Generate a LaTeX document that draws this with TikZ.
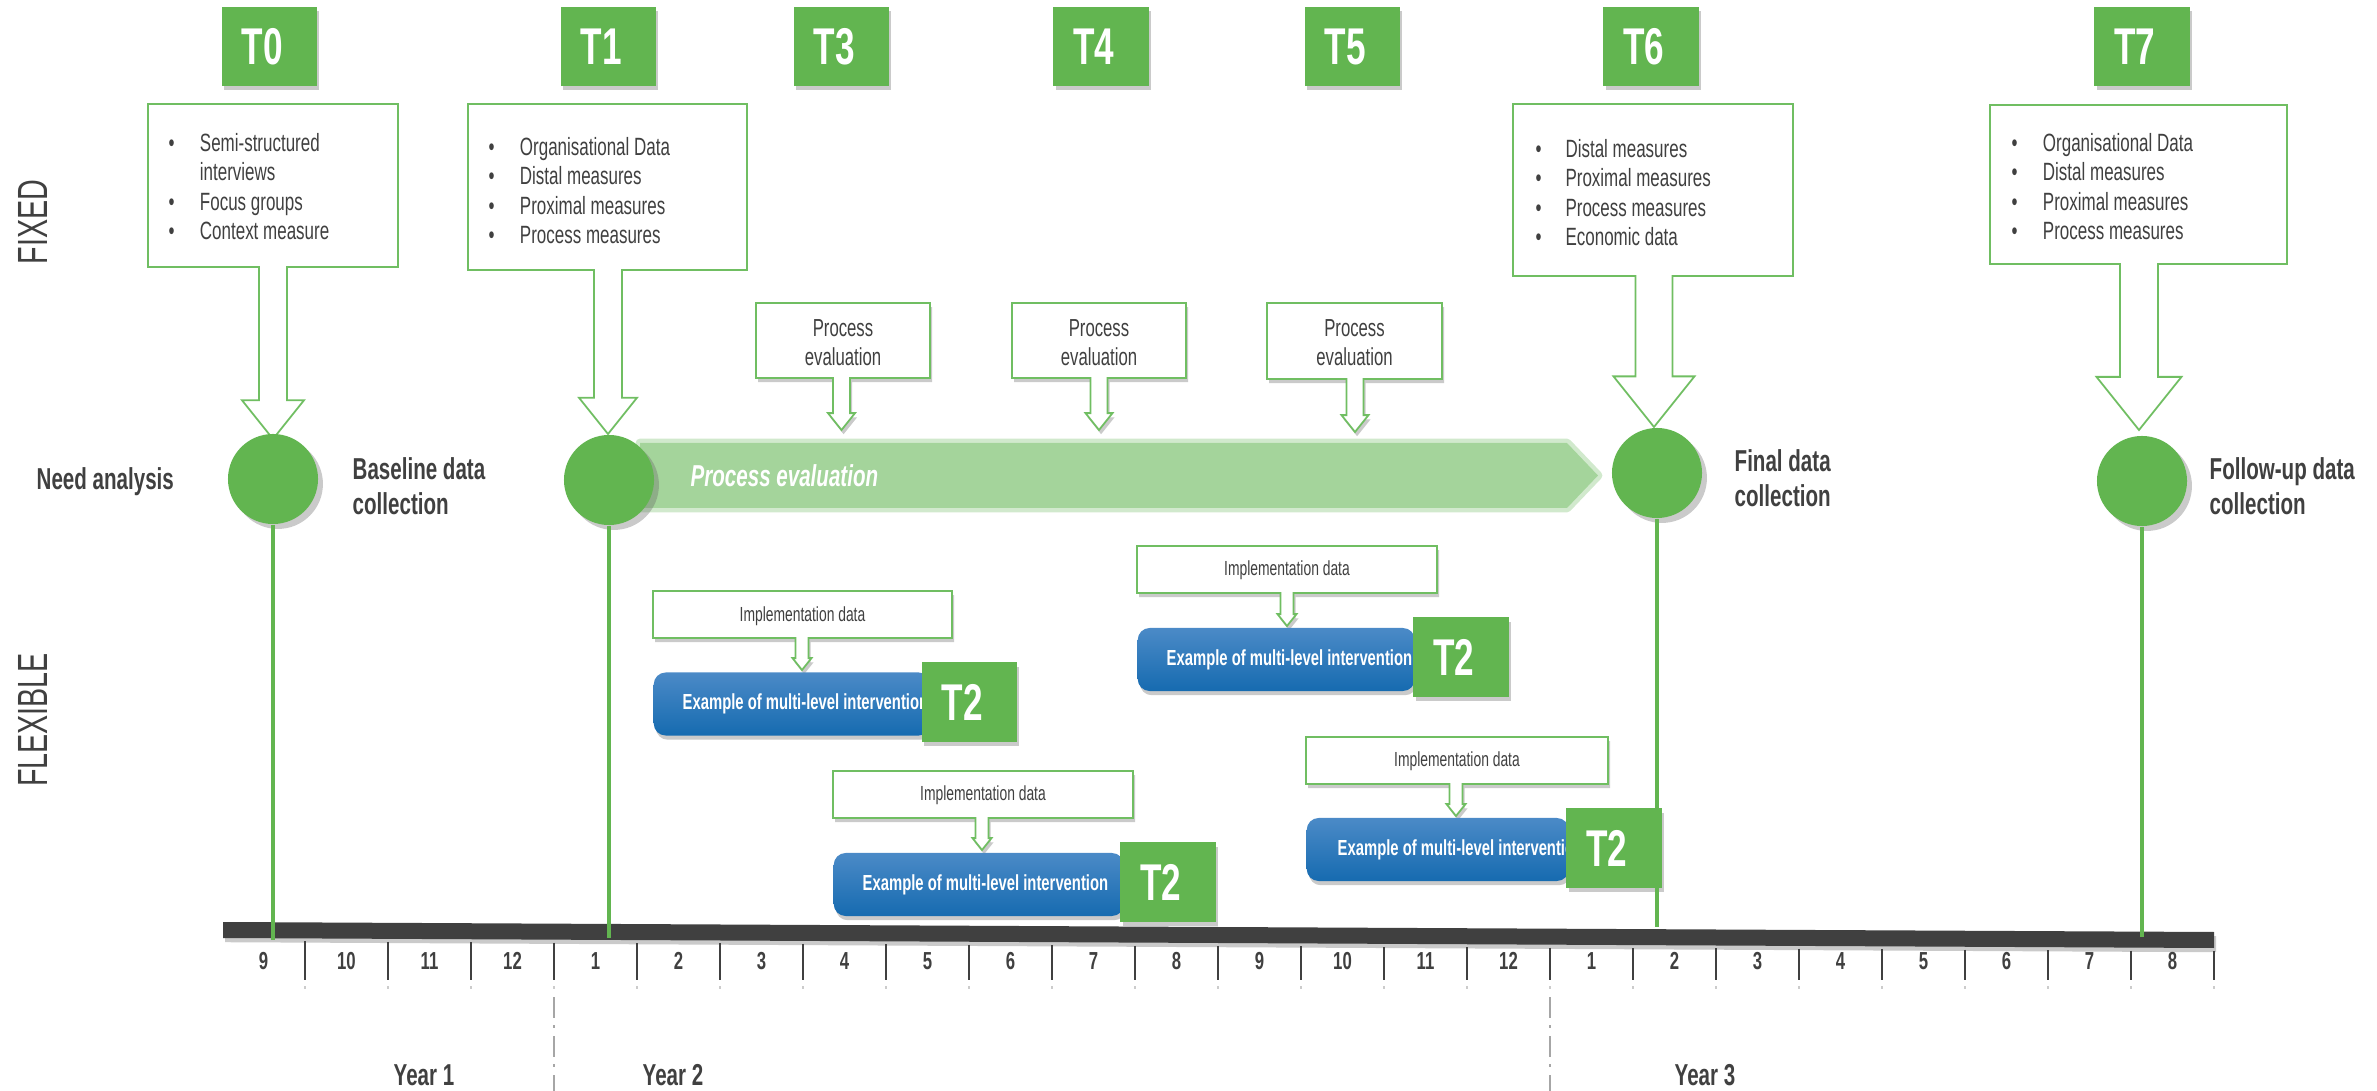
\documentclass[tikz,border=0pt]{standalone}
\usepackage{fontspec}
\setmainfont[FakeStretch=0.68]{Liberation Sans}
\usetikzlibrary{shadows}
\definecolor{tgreen}{RGB}{98,181,80}
\definecolor{lgreen}{RGB}{112,190,98}
\definecolor{pband}{RGB}{164,212,155}
\definecolor{btop}{RGB}{75,138,199}
\definecolor{bbot}{RGB}{22,107,176}
\definecolor{dgrey}{RGB}{64,64,64}
\newcommand{\callout}[9]{%
  \path[#1] (#2,#3) -- (#4,#3) -- (#4,#5) -- ({#6+#7},#5) -- ({#6+#7},{#9-1.25*#8})
    -- ({#6+#8},{#9-1.25*#8}) -- (#6,#9) -- ({#6-#8},{#9-1.25*#8}) -- ({#6-#7},{#9-1.25*#8})
    -- ({#6-#7},#5) -- (#2,#5) -- cycle;}

\begin{document}
\begin{tikzpicture}[x=0.01cm, y=-0.01cm,
  shade/.style={drop shadow={shadow xshift=0.6pt, shadow yshift=-1.2pt, opacity=0.35, fill=black!60}},
  tsq/.style={fill=tgreen, minimum width=0.95cm, minimum height=0.79cm, inner sep=0, text=white, font=\bfseries\fontsize{14.7}{16}\selectfont, execute at end node={\hspace*{4pt}}, shade},
  dot/.style={circle, fill=tgreen, minimum size=0.9cm, inner sep=0, drop shadow={shadow xshift=1.4pt, shadow yshift=-1.4pt, opacity=0.35, fill=black!60}},
  bigbox/.style={fill=white, draw=lgreen, line width=0.5pt},
  smallbox/.style={bigbox, shade},
  lbl/.style={font=\bfseries\fontsize{8.6}{10}\selectfont, text=dgrey, align=left, anchor=west, inner sep=0},
  blist/.style={anchor=north west, inner sep=0, text=dgrey, font=\fontsize{7.1}{8.4}\selectfont},
  ptext/.style={align=center, text=dgrey, font=\fontsize{7}{8.3}\selectfont, inner sep=0},
  itext/.style={text=dgrey, font=\fontsize{5.8}{7}\selectfont, inner sep=0},
  bbar/.style={rounded corners=0.12cm, top color=btop, bottom color=bbot, minimum height=0.63cm, anchor=west, inner sep=0, shade},
  btext/.style={text=white, font=\bfseries\fontsize{6.2}{8}\selectfont, anchor=west, inner sep=0},
  band/.style={fill=pband, draw=pband, draw opacity=0.5, line width=2.5pt, line join=round},
  month/.style={text=dgrey, font=\bfseries\fontsize{7}{8}\selectfont},
  tick/.style={dgrey, line width=0.6pt},
  vline/.style={tgreen, line width=1pt},
  yeardiv/.style={black!35, line width=0.6pt, dash pattern=on 6pt off 2pt on 0.8pt off 2.3pt},
  side/.style={rotate=90, text=dgrey, font=\fontsize{12}{14}\selectfont}]
  \useasboundingbox (0,0) rectangle (2377,1091);

  \node[side] (fixed) at (33,222) {FIXED};
  \node[side] (flex) at (33,720) {FLEXIBLE};
  \node[lbl, anchor=base west] (need) at (36,490) {Need analysis};

  \node[tsq] (t0) at (269.5,46.5) {T0};
  \node[tsq] (t1) at (608.5,46.5) {T1};
  \node[tsq] (t3) at (841.5,46.5) {T3};
  \node[tsq] (t4) at (1101,46.5) {T4};
  \node[tsq] (t5) at (1352.5,46.5) {T5};
  \node[tsq] (t6) at (1651,46.5) {T6};
  \node[tsq] (t7) at (2142,46.5) {T7};

  \callout{bigbox}{148}{104}{398}{267}{273}{14}{31}{439}
  \callout{bigbox}{468}{104}{747}{270}{608}{14}{29}{434}
  \callout{bigbox}{1513}{104}{1793}{276}{1654}{18.5}{40.5}{427}
  \callout{bigbox}{1990}{105}{2287}{264}{2139}{19}{42.5}{430}
  \node[blist] (l0) at (168,130) {\begin{tabular}{@{}l@{\hspace{7.2pt}}l@{}}\textbullet & Semi-structured\\ & interviews\\ \textbullet & Focus groups\\ \textbullet & Context measure\end{tabular}};
  \node[blist] (l1) at (488,134) {\begin{tabular}{@{}l@{\hspace{7.2pt}}l@{}}\textbullet & Organisational Data\\ \textbullet & Distal measures\\ \textbullet & Proximal measures\\ \textbullet & Process measures\end{tabular}};
  \node[blist] (l6) at (1535,136) {\begin{tabular}{@{}l@{\hspace{6.8pt}}l@{}}\textbullet & Distal measures\\ \textbullet & Proximal measures\\ \textbullet & Process measures\\ \textbullet & Economic data\end{tabular}};
  \node[blist] (l7) at (2011,130) {\begin{tabular}{@{}l@{\hspace{7.2pt}}l@{}}\textbullet & Organisational Data\\ \textbullet & Distal measures\\ \textbullet & Proximal measures\\ \textbullet & Process measures\end{tabular}};

  \callout{smallbox}{756}{303}{930}{378}{841.5}{8.5}{13.5}{430}
  \callout{smallbox}{1012}{303}{1186}{378}{1099}{8.5}{13.5}{430}
  \callout{smallbox}{1267}{303}{1442}{379}{1355}{8.5}{13.5}{432}
  \node[ptext] (p1) at (843,342.5) {Process\\evaluation};
  \node[ptext] (p2) at (1099,342.5) {Process\\evaluation};
  \node[ptext] (p3) at (1354.5,343) {Process\\evaluation};

  \path[band] (640,443) -- (1567,443) -- (1598,475.5) -- (1567,508) -- (640,508) -- cycle;
  \node[btext, font=\bfseries\itshape\fontsize{8.6}{10}\selectfont] (pe) at (690,476) {Process evaluation};

  \node[dot] (c0) at (273,479) {};
  \node[dot] (c1) at (609,480) {};
  \node[dot] (c6) at (1657,473) {};
  \node[dot] (c7) at (2142,481) {};
  \node[lbl] (base) at (352,486) {Baseline data\\collection};
  \node[lbl] (final) at (1734,478) {Final data\\collection};
  \node[lbl] (follow) at (2209,486.5) {Follow-up data\\collection};

  \callout{smallbox}{653}{591}{952}{638}{802}{6.5}{9.5}{670}
  \callout{smallbox}{1137}{546}{1437}{593}{1287}{6.5}{9.5}{626}
  \callout{smallbox}{833}{771}{1133}{818}{982}{6.5}{9.5}{850}
  \callout{smallbox}{1306}{737}{1608}{784}{1456}{6.5}{9.5}{816}
  \node[itext] (ia) at (802.5,616) {Implementation data};
  \node[itext] (ib) at (1287,570) {Implementation data};
  \node[itext] (ic) at (983,795) {Implementation data};
  \node[itext] (id) at (1457,761) {Implementation data};

  \node[bbar, minimum width=2.77cm] (ba) at (653,704) {};
  \node[bbar, minimum width=2.77cm] (bb) at (1137,659.5) {};
  \node[bbar, minimum width=2.90cm] (bc) at (833,884.5) {};
  \node[bbar, minimum width=2.62cm] (bd) at (1306,849.5) {};
  \node[btext] (xa) at ([xshift=0.29cm]ba.west) {Example of multi-level intervention};
  \node[btext] (xb) at ([xshift=0.29cm]bb.west) {Example of multi-level intervention};
  \node[btext] (xc) at ([xshift=0.29cm]bc.west) {Example of multi-level intervention};
  \node[btext] (xd) at ([xshift=0.31cm]bd.west) {Example of multi-level intervention};
  \node[tsq] (ta) at (969.5,702) {T2};
  \node[tsq] (tb) at (1461,657) {T2};
  \node[tsq] (tc) at (1168,882) {T2};
  \node[tsq] (td) at (1614,848) {T2};

  \fill[dgrey, shade] (223,922) -- (2214,932) -- (2214,948) -- (223,938) -- cycle;
  \foreach \k in {0,...,23} {
    \draw[tick] ({305+83*\k},{941+0.005*(82+83*\k)}) -- ({305+83*\k},980);
    \draw[black!20, line width=0.4pt] ({305+83*\k},986) -- ({305+83*\k},989);
  }
  \foreach \m [count=\i from 0] in {9,10,11,12,1,2,3,4,5,6,7,8,9,10,11,12,1,2,3,4,5,6,7,8}
    \node[month] (m\i) at ({263.5+83*\i},961) {\m};
  \draw[yeardiv] (554,997) -- (554,1091);
  \draw[yeardiv] (1550,997) -- (1550,1091);
  \node[lbl, anchor=base] (y1) at (424,1085) {Year 1};
  \node[lbl, anchor=base] (y2) at (673,1085) {Year 2};
  \node[lbl, anchor=base] (y3) at (1705,1085) {Year 3};

  \coordinate (e0) at (273,940);
  \coordinate (e1) at (609,938);
  \coordinate (e6) at (1657,927);
  \coordinate (e7) at (2142,937);
  \draw[vline] (c0.south) -- (e0);
  \draw[vline] (c1.south) -- (e1);
  \draw[vline] (c6.south) -- (e6);
  \draw[vline] (c7.south) -- (e7);
\end{tikzpicture}
\end{document}
